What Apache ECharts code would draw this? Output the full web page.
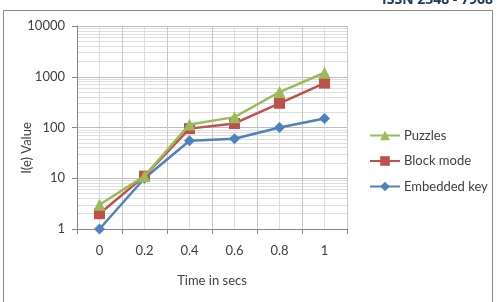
<!DOCTYPE html>
<html><head><meta charset="utf-8">
<script src="https://cdn.jsdelivr.net/npm/echarts@6/dist/echarts.min.js"></script>
<style>html,body{margin:0;padding:0;background:#fff}#c{width:497px;height:302px}</style>
</head><body><div id="c"></div>
<script>
var categories = ['0', '0.2', '0.4', '0.6', '0.8', '1'];
var puzzles = [3, 11, 115, 160, 500, 1200];
var blockMode = [2, 11, 95, 120, 300, 750];
var embeddedKey = [1, 10, 55, 60, 100, 150];
var minorGridValues = [2,3,4,5,6,7,8,9,20,30,40,50,60,70,80,90,200,300,400,500,600,700,800,900,2000,3000,4000,5000,6000,7000,8000,9000];

var FONT = 'Lato';
var chart = echarts.init(document.getElementById('c'), null, {renderer: 'canvas'});

var minorLines = minorGridValues.map(function (v) { return {yAxis: v}; });
var centerLines = categories.map(function (c) { return {xAxis: c}; });

chart.setOption({
  animation: false,
  textStyle: {fontFamily: FONT},
  grid: {left: 77, right: 150, top: 26, bottom: 73, containLabel: false},
  xAxis: {
    type: 'category',
    data: categories,
    boundaryGap: true,
    name: 'Time in secs',
    nameLocation: 'middle',
    nameGap: 45,
    nameTextStyle: {color: '#404040', fontSize: 13, fontFamily: FONT},
    axisLine: {lineStyle: {color: '#868686'}},
    axisTick: {show: true, alignWithLabel: false, length: 5, lineStyle: {color: '#868686'}},
    axisLabel: {color: '#404040', fontSize: 13, margin: 15, fontFamily: FONT},
    splitLine: {show: true, lineStyle: {color: '#c8c8c8', width: 1}},
    z: 1
  },
  yAxis: {
    type: 'log',
    logBase: 10,
    min: 1,
    max: 10000,
    axisLine: {show: true, lineStyle: {color: '#868686'}},
    axisTick: {show: true, length: 5, lineStyle: {color: '#868686'}},
    axisLabel: {color: '#404040', fontSize: 13, margin: 12, fontFamily: FONT, formatter: function (v) { return String(v); }},
    splitLine: {show: true, lineStyle: {color: '#bdbdbd', width: 1}},
    z: 1
  },
  legend: {
    orient: 'vertical',
    left: 364,
    top: 124,
    itemWidth: 30,
    itemHeight: 12,
    itemGap: 12.5,
    data: ['Puzzles', 'Block mode', 'Embedded key'],
    textStyle: {color: '#404040', fontSize: 13, fontFamily: FONT, padding: [0, 0, 0, -1]}
  },
  graphic: [
    {type: 'rect', shape: {x: 3.5, y: 10.5, width: 489, height: 300}, style: {fill: 'none', stroke: '#8a8a8a', lineWidth: 1}, z: -1},
    {type: 'text', x: 493, y: 7, style: {text: 'ISSN 2348 - 7968', align: 'right', verticalAlign: 'bottom', fill: '#203864', font: 'bold 14px "Open Sans"'}},
    {type: 'text', x: 27, y: 148, rotation: Math.PI / 2, style: {text: 'I(e) Value', align: 'center', verticalAlign: 'middle', fill: '#404040', font: '13px Lato'}}
  ],
  series: [
    {
      name: 'grid-minor', type: 'line', data: [], silent: true, z: 0,
      markLine: {
        silent: true, symbol: 'none', label: {show: false}, z: 0,
        lineStyle: {color: '#dedede', width: 1, type: 'solid'},
        data: minorLines.concat(centerLines)
      }
    },
    {
      name: 'Embedded key', type: 'line', data: embeddedKey,
      symbol: 'diamond', symbolSize: 11,
      itemStyle: {color: '#4F81BD'}, lineStyle: {color: '#4F81BD', width: 2.5}, z: 10
    },
    {
      name: 'Block mode', type: 'line', data: blockMode,
      symbol: 'rect', symbolSize: 11,
      itemStyle: {color: '#C0504D'}, lineStyle: {color: '#C0504D', width: 2.5}, z: 11
    },
    {
      name: 'Puzzles', type: 'line', data: puzzles,
      symbol: 'triangle', symbolSize: 12,
      itemStyle: {color: '#9BBB59'}, lineStyle: {color: '#9BBB59', width: 2.5}, z: 12
    }
  ]
});
</script></body></html>
